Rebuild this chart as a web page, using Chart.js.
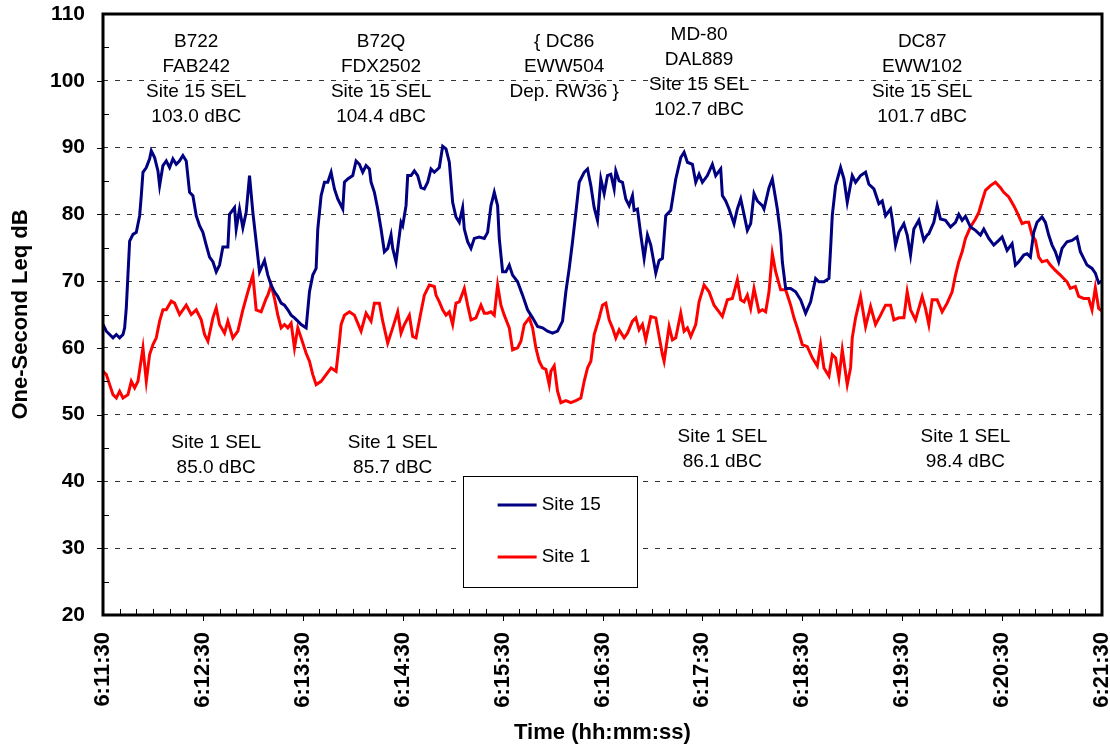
<!DOCTYPE html>
<html>
<head>
<meta charset="utf-8">
<script src="https://cdn.jsdelivr.net/npm/chart.js@4.4.1/dist/chart.umd.min.js"></script>
<style>
  body { margin: 0; background: #fff; }
  #wrap { width: 1110px; height: 750px; }
</style>
</head>
<body>
<div id="wrap"><canvas id="leqChart" width="1110" height="750"></canvas></div>
<script>
// tick labels for the time axis (one per minute)
const timeLabels = ["6:11:30", "6:12:30", "6:13:30", "6:14:30", "6:15:30", "6:16:30",
    "6:17:30", "6:18:30", "6:19:30", "6:20:30", "6:21:30"];

// Site 15 - seconds after 6:11:30 and one-second Leq (dB)
const site15Sec = [0, 2, 4, 6, 8, 10, 12, 13, 14, 16, 18, 20, 22, 23, 24, 26, 28, 29, 31, 33, 34, 36, 38, 40, 42, 44, 46, 48, 50,
    52, 54, 56, 58, 60, 62, 64, 66, 68, 70, 72, 75, 76, 79, 80, 82, 84, 86, 88, 90, 92, 94, 97, 99,
    101, 103, 105, 107, 109, 111, 113, 115, 117, 119, 122, 124, 126, 128, 129, 131, 133, 135, 137, 139, 141, 144, 145, 147, 150,
    152, 154, 156, 158, 160, 161, 163, 165, 167, 169, 171, 173, 174, 176, 177, 179, 180, 182, 183, 185, 187, 189, 191, 193, 195, 197, 199,
    202, 204, 206, 208, 210, 212, 214, 216, 217, 219, 221, 223, 226, 229, 231, 233, 235, 237, 238, 240, 242, 244, 246, 249,
    252, 255, 258, 261, 264, 267, 270, 273, 276, 278, 280, 282, 284, 286, 289, 291, 293, 295, 297, 299,
    301, 303, 305, 307, 308, 310, 312, 314, 316, 318, 319, 321, 323, 325, 327, 329, 332, 334, 336, 338, 341, 344, 347, 349,
    351, 354, 356, 358, 360, 363, 366, 368, 371, 372, 374, 376, 379, 381, 383, 385, 387, 389, 391, 393, 396, 397,
    400, 402, 405, 407, 408, 410, 413, 416, 419, 422, 425, 428, 430, 433, 436, 437, 438, 440, 443, 445, 447, 450,
    452, 455, 458, 460, 463, 466, 468, 470, 473, 474, 476, 478, 481, 483, 485, 487, 490, 493, 495, 496, 499,
    501, 503, 506, 509, 512, 514, 516, 518, 521, 524, 527, 529, 532, 535, 538, 540, 543, 546, 548, 550,
    553, 555, 557, 559, 561, 564, 566, 568, 570, 572, 574, 576, 579, 582, 585, 587, 589, 591, 594, 596, 598, 600];
const site15Leq = [63.5, 62.5, 62, 61.5, 62, 61.5, 62, 63, 66, 76, 77, 77.3, 79.8, 82.8, 86.3, 87, 88.3, 89.5, 88.5, 86.5, 84.3, 87.3, 88, 87, 88.3, 87.5, 88, 88.8, 88,
    83.3, 82.8, 79.8, 78.3, 77.3, 75.4, 73.6, 72.9, 71.4, 72.4, 75.1, 75.1, 80, 81, 77.8, 80.8, 78, 80.3, 85.8, 80.3, 75.9, 71.4, 73.1, 70.9,
    69.4, 68.4, 67.7, 66.7, 66.4, 65.7, 64.9, 64.5, 64, 63.5, 63, 68.4, 70.9, 71.9, 77.8, 82.8, 84.8, 84.8, 86.3, 83.8, 82.3, 80.8, 84.8, 85.3, 85.8,
    88, 87.5, 86.3, 87.3, 86.8, 84.8, 83.3, 80.8, 77.8, 74.4, 74.9, 76.9, 74.9, 72.9, 74.9, 78.8, 78.3, 81.3, 85.8, 85.8, 86.5, 85.8, 84, 83.8, 84.8, 86.8, 86.3,
    87, 90.2, 89.8, 87.8, 81.8, 79.6, 78.8, 81, 77.8, 75.9, 74.9, 76.4, 76.6, 76.4, 77.3, 81.3, 83.3, 81.3, 76.4, 71.4, 71.4, 72.4, 70.9, 69.9,
    67.9, 65.7, 64.5, 63.2, 63, 62.5, 62.2, 62.5, 64, 68.4, 71.9, 75.9, 80.3, 84.8, 86.3, 86.8, 84.3, 81, 79.1, 85.3,
    83.1, 85.8, 86, 83.8, 86.5, 85, 84.8, 82.3, 81.3, 82.8, 80.6, 80.8, 76.9, 73.4, 76.9, 75.4, 71.2, 73.1, 73.4, 79.8, 80.6, 85.3, 88.5, 89.3,
    87.8, 87.5, 84.8, 86, 84.8, 85.8, 87.5, 85.8, 86.8, 82.8, 82, 80.8, 78.6, 80.8, 82.3, 80, 77.6, 78.6, 83.1, 82, 81.3, 80.8,
    84, 85.3, 80.8, 76.9, 72.9, 68.9, 68.9, 68.4, 67.2, 65.2, 66.9, 70.4, 69.9, 69.9, 70.4, 74.9, 79.8, 84.3, 87, 85.3, 81.8, 85.8,
    84.8, 85.8, 86.3, 84.5, 83.8, 81.6, 82, 79.8, 80.8, 79.3, 75.4, 77.3, 78.6, 76.9, 73.9, 77.8, 79.1, 76.1, 76.9, 77.1, 78.8,
    81.3, 79.3, 79.1, 78.1, 78.8, 80, 79.1, 79.7, 78.1, 77.6, 76.9, 77.8, 76.4, 75.4, 76.1, 76.6, 74.6, 75.6, 72.4, 72.9,
    73.9, 74.1, 73.6, 77.3, 78.8, 79.6, 78.8, 76.9, 75.4, 74.4, 72.9, 74.9, 75.9, 76.1, 76.6, 74.4, 73.4, 72.4, 71.9, 71.2, 69.7, 70];

// Site 1 - seconds after 6:11:30 and one-second Leq (dB)
const site1Sec = [0, 2, 4, 6, 8, 10, 12, 15, 17, 19, 21, 24, 26, 28, 30, 32, 34, 36, 38, 41, 43, 46, 50, 53, 56, 59, 61, 63, 66, 68,
    70, 73, 75, 78, 81, 84, 87, 90, 92, 95, 98, 99, 101, 103, 105, 107, 109, 111, 113, 115, 117, 119, 122, 124, 126, 128,
    131, 134, 137, 140, 142, 143, 145, 148, 151, 155, 158, 161, 163, 166, 168, 171, 174, 177, 179, 181, 184, 186, 188, 191, 193, 196, 199,
    200, 202, 204, 206, 208, 210, 212, 214, 217, 219, 221, 224, 227, 229, 231, 233, 235, 237, 239, 241, 244, 246, 249, 251, 253, 256, 258,
    260, 262, 264, 266, 268, 269, 271, 273, 275, 278, 281, 284, 287, 289, 291, 293, 295, 298,
    300, 302, 304, 306, 308, 310, 313, 315, 318, 320, 322, 324, 326, 329, 332, 334, 336, 337, 340, 342, 344, 347, 349,
    351, 353, 356, 358, 361, 364, 367, 370, 372, 375, 378, 381, 383, 385, 387, 389, 391, 394, 396, 398,
    400, 402, 404, 407, 410, 413, 415, 417, 420, 423, 426, 429, 431, 433, 436, 438, 440, 442, 444, 447, 449,
    450, 452, 455, 458, 461, 464, 467, 470, 473, 475, 478, 481, 483, 485, 488, 492, 494, 496, 498,
    501, 504, 507, 510, 512, 514, 516, 518, 521, 524, 526, 528, 530, 533, 536, 539, 541, 544, 547, 549,
    552, 554, 556, 558, 560, 562, 564, 567, 569, 572, 575, 577, 579, 581, 584, 586, 589, 592, 594, 596, 598, 600];
const site1Leq = [56.5, 56, 54.5, 53, 52.5, 53.5, 52.5, 53, 55, 54, 55, 60, 55, 59, 60.5, 61.5, 64, 65.7, 65.7, 67, 66.7, 65, 66.4, 65, 65.7, 64.2, 62, 61, 64.5, 66,
    63.5, 62.2, 64, 61.5, 62.5, 65.7, 68.4, 70.9, 65.7, 65.4, 67.4, 67.9, 69.4, 67.4, 64.9, 63, 63.5, 63, 63.7, 60, 63, 61.5, 59.2, 58, 56, 54.5,
    55, 56, 57, 56.5, 61, 63.5, 64.9, 65.4, 64.9, 62.5, 65.2, 64, 66.7, 66.7, 64, 60.7, 63, 65.4, 62.2, 63.5, 64.9, 61.7, 61.5, 65.4, 67.9, 69.4, 69.2,
    67.9, 66.9, 65.7, 64.9, 65.4, 63.5, 66.7, 66.9, 68.9, 66.4, 64.2, 64.5, 66.4, 65.2, 65.2, 65.4, 64.9, 69.4, 66.4, 64.9, 63, 59.7, 60, 61, 63.5, 64.5, 63,
    60, 58, 57, 56.8, 54.5, 56.5, 57.3, 53.5, 51.8, 52.1, 51.8, 52.1, 52.5, 55, 57, 58, 62, 64.5,
    66.4, 66.7, 64.2, 63, 61.5, 62.7, 61.5, 62.2, 64, 64.5, 62.7, 63.5, 61.2, 64.7, 64.5, 61.7, 59, 58, 63.2, 61.2, 61.5, 65.2, 62.5,
    63, 61.7, 63.5, 66.9, 69.4, 68.4, 66.4, 65.4, 64.7, 67.2, 67.4, 70.2, 67.2, 66.9, 67.9, 65.9, 68.9, 65.4, 65.7, 65.4,
    68.4, 74.1, 71.4, 68.7, 68.7, 66.4, 64.5, 63, 60.5, 60.2, 58.5, 57.3, 60.5, 57, 55.8, 59, 58.5, 55.5, 59.7, 54.5, 57,
    61.5, 64.5, 67.7, 63.2, 66.2, 63.5, 64.9, 66.4, 66.4, 64.2, 64.5, 64.5, 68.4, 65.7, 64.2, 67.7, 65.9, 63.5, 67.2,
    67.2, 65.4, 66.7, 68.4, 70.9, 72.9, 74.4, 76.4, 78.1, 79.3, 80.3, 82, 83.6, 84.3, 84.8, 84, 83.3, 82.6, 81.3, 80.3,
    78.6, 78.8, 78.8, 76.9, 76.1, 73.6, 72.9, 73.1, 72.4, 71.6, 70.9, 70.4, 69.9, 68.9, 69.2, 67.7, 67.4, 67.4, 65.7, 69, 65.9, 65.5];

// text notes on the chart: anchor (seconds, dB) and lines
const notes = [
    { sec: 56, dB: 105.8, lines: ["B722", "FAB242", "Site 15 SEL", "103.0 dBC"] },
    { sec: 167, dB: 105.8, lines: ["B72Q", "FDX2502", "Site 15 SEL", "104.4 dBC"] },
    { sec: 277, dB: 105.8, lines: ["{ DC86", "EWW504", "Dep. RW36 }"] },
    { sec: 358, dB: 106.9, lines: ["MD-80", "DAL889", "Site 15 SEL", "102.7 dBC"] },
    { sec: 492, dB: 105.8, lines: ["DC87", "EWW102", "Site 15 SEL", "101.7 dBC"] },
    { sec: 68, dB: 45.8, lines: ["Site 1 SEL", "85.0 dBC"] },
    { sec: 174, dB: 45.8, lines: ["Site 1 SEL", "85.7 dBC"] },
    { sec: 372, dB: 46.7, lines: ["Site 1 SEL", "86.1 dBC"] },
    { sec: 518, dB: 46.7, lines: ["Site 1 SEL", "98.4 dBC"] }
];

const seriesNames = ["Site 15", "Site 1"];
const seriesColors = ["#000080", "#ff0000"];

function toPoints(secs, vals) {
    return secs.map((s, i) => ({ x: s, y: vals[i] }));
}

// frame, inner ticks, notes and the boxed legend
const decorations = {
    id: "decorations",
    afterDraw(chart) {
        const ctx = chart.ctx;
        const area = chart.chartArea;
        const xs = chart.scales.x;
        const ys = chart.scales.y;
        ctx.save();

        // small ticks
        ctx.strokeStyle = "#000";
        ctx.lineWidth = 1;
        ctx.beginPath();
        for (let s = 10; s < 600; s += 10) {
            const px = Math.round(xs.getPixelForValue(s)) + 0.5;
            if (s % 60 === 0) {
                ctx.moveTo(px, area.bottom);
                ctx.lineTo(px, area.bottom + 6);
            } else {
                ctx.moveTo(px, area.bottom);
                ctx.lineTo(px, area.bottom - 6);
            }
        }
        for (let v = 25; v < 110; v += 5) {
            const py = Math.round(ys.getPixelForValue(v)) + 0.5;
            if (v % 10 === 0) {
                ctx.moveTo(area.left - 6, py);
                ctx.lineTo(area.left, py);
            } else {
                ctx.moveTo(area.left, py);
                ctx.lineTo(area.left + 6, py);
            }
        }
        ctx.stroke();

        // plot frame
        ctx.lineWidth = 3;
        ctx.strokeRect(area.left, area.top, area.right - area.left, area.bottom - area.top);

        // notes
        ctx.fillStyle = "#000";
        ctx.font = "19px 'Liberation Sans', Arial, sans-serif";
        ctx.textAlign = "center";
        ctx.textBaseline = "middle";
        notes.forEach(n => {
            const cx = xs.getPixelForValue(n.sec);
            const cy = ys.getPixelForValue(n.dB);
            n.lines.forEach((line, i) => {
                ctx.fillText(line, cx, cy + i * 25);
            });
        });

        // legend box
        const bx = xs.getPixelForValue(216);
        const by = ys.getPixelForValue(40.8);
        const bw = 174, bh = 111;
        ctx.fillStyle = "#fff";
        ctx.fillRect(bx, by, bw, bh);
        ctx.lineWidth = 1;
        ctx.strokeStyle = "#000";
        ctx.strokeRect(Math.round(bx) + 0.5, Math.round(by) + 0.5, bw, bh);
        ctx.textAlign = "left";
        seriesNames.forEach((name, i) => {
            const ly = by + 29 + i * 52;
            ctx.strokeStyle = seriesColors[i];
            ctx.lineWidth = 3;
            ctx.beginPath();
            ctx.moveTo(bx + 35, ly);
            ctx.lineTo(bx + 74, ly);
            ctx.stroke();
            ctx.fillStyle = "#000";
            ctx.fillText(name, bx + 79, ly);
        });
        ctx.restore();
    }
};

new Chart(document.getElementById("leqChart"), {
    type: "line",
    data: {
        datasets: [
            {
                label: seriesNames[0],
                data: toPoints(site15Sec, site15Leq),
                borderColor: seriesColors[0],
                borderWidth: 3,
                pointRadius: 0,
                tension: 0
            },
            {
                label: seriesNames[1],
                data: toPoints(site1Sec, site1Leq),
                borderColor: seriesColors[1],
                borderWidth: 3,
                pointRadius: 0,
                tension: 0
            }
        ]
    },
    options: {
        responsive: false,
        animation: false,
        layout: { padding: { top: 14, right: 8, bottom: 0, left: 0 } },
        plugins: {
            legend: { display: false },
            tooltip: { enabled: false }
        },
        scales: {
            x: {
                type: "linear",
                min: 0,
                max: 600,
                afterFit(scale) {
                    scale.height = 135;
                    scale.paddingLeft = 0;
                    scale.paddingRight = 0;
                },
                grid: { display: false, drawTicks: false },
                border: { display: false },
                ticks: {
                    stepSize: 60,
                    autoSkip: false,
                    minRotation: 90,
                    maxRotation: 90,
                    padding: 17,
                    color: "#000",
                    font: { family: "'Liberation Sans', Arial, sans-serif", size: 22, weight: "bold" },
                    callback: (value, index) => timeLabels[index]
                },
                title: {
                    display: true,
                    text: "Time (hh:mm:ss)",
                    color: "#000",
                    font: { family: "'Liberation Sans', Arial, sans-serif", size: 22, weight: "bold" },
                    padding: { top: 0, bottom: 4 }
                }
            },
            y: {
                min: 20,
                max: 110,
                afterFit(scale) {
                    scale.width = 103;
                    scale.paddingTop = 0;
                    scale.paddingBottom = 0;
                },
                grid: {
                    drawTicks: false,
                    color: (c) => (c.tick.value === 20 || c.tick.value === 110) ? "rgba(0,0,0,0)" : "#333",
                    lineWidth: 1
                },
                border: { display: false, dash: [5, 7] },
                ticks: {
                    stepSize: 10,
                    padding: 18,
                    color: "#000",
                    font: { family: "'Liberation Sans', Arial, sans-serif", size: 21, weight: "bold" }
                },
                title: {
                    display: true,
                    text: "One-Second Leq dB",
                    color: "#000",
                    font: { family: "'Liberation Sans', Arial, sans-serif", size: 22, weight: "bold" },
                    padding: { top: 8, bottom: 0 }
                }
            }
        }
    },
    plugins: [decorations]
});
</script>
</body>
</html>
